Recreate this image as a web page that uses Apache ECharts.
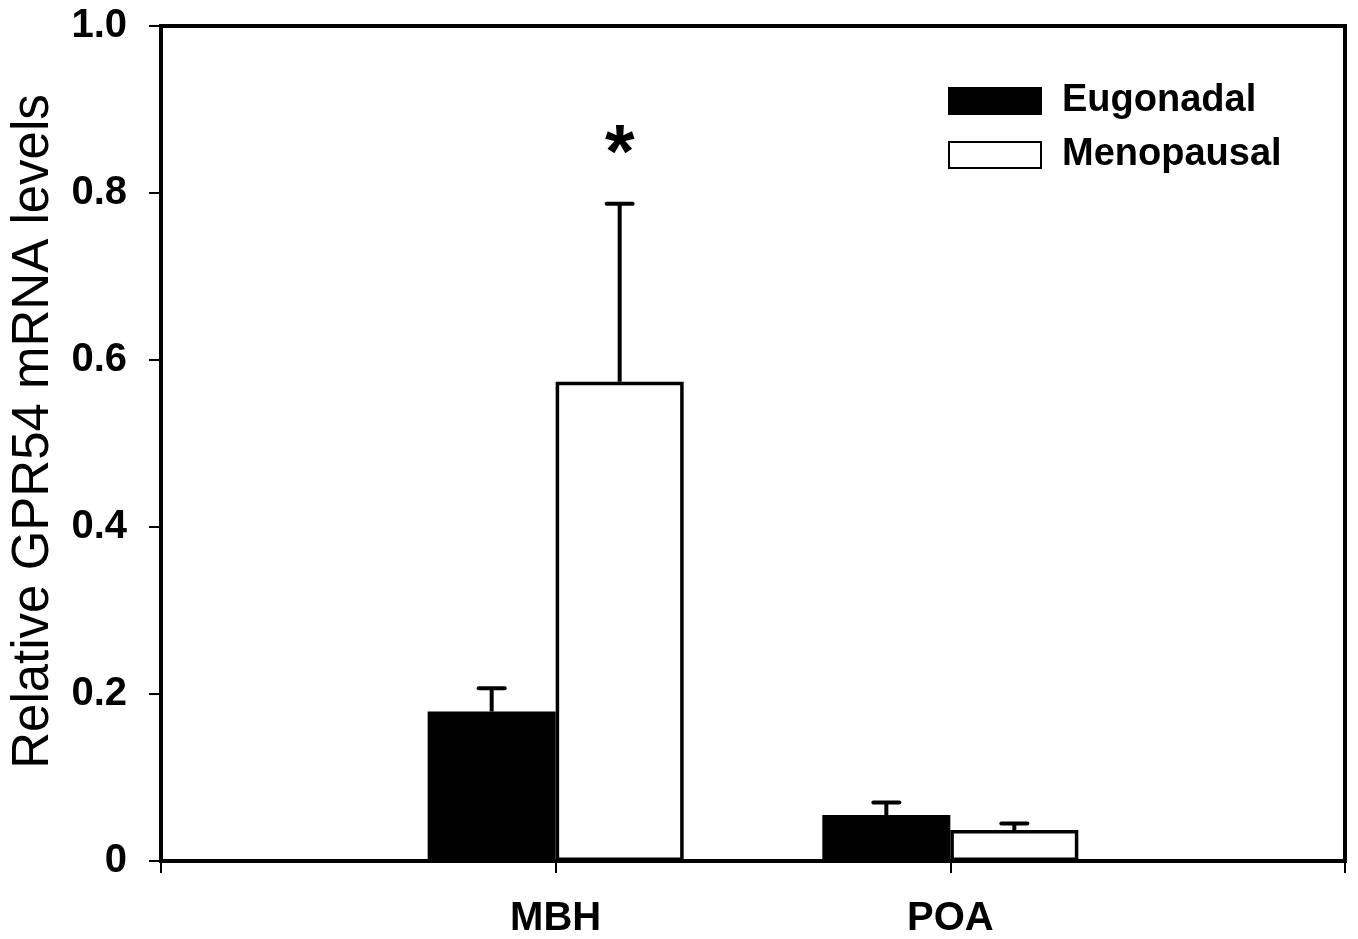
<!DOCTYPE html>
<html>
<head>
<meta charset="utf-8">
<script src="https://cdn.jsdelivr.net/npm/echarts@6/dist/echarts.min.js"></script>
<style>html,body{margin:0;padding:0;background:#fff}#c{width:1358px;height:939px}</style>
</head>
<body>
<div id="c"></div>
<script>
// Data
var categories = ['', 'MBH', 'POA', ''];
var seriesNames = ['Eugonadal', 'Menopausal'];
var eugonadal = [null, 0.179, 0.055, null];
var eugonadalErrTop = [null, 0.207, 0.070, null];
var menopausal = [null, 0.574, 0.037, null];
var menopausalErrTop = [null, 0.787, 0.045, null];
var menopausalSig = ['', '*', '', ''];
var yTicks = [0, 0.2, 0.4, 0.6, 0.8, 1.0];

var BAR_W = 128;
var FONT = '"Liberation Sans", Arial, Helvetica, sans-serif';

function errData(vals, tops, sig) {
  var out = [];
  for (var i = 0; i < vals.length; i++) {
    if (vals[i] == null) continue;
    out.push([i, vals[i], tops[i], sig ? sig[i] : '']);
  }
  return out;
}

function makeErrRender(offset) {
  return function (params, api) {
    var x = api.value(0);
    var base = api.coord([x, api.value(1)]);
    var top = api.coord([x, api.value(2)]);
    var cx = base[0] + offset;
    var style = { stroke: '#000', lineWidth: 4, lineCap: 'round' };
    var children = [
      { type: 'line', shape: { x1: cx, y1: base[1], x2: cx, y2: top[1] }, style: { stroke: '#000', lineWidth: 4 } },
      { type: 'line', shape: { x1: cx - 13, y1: top[1], x2: cx + 13, y2: top[1] }, style: style }
    ];
    var s = api.value(3);
    if (s) {
      children.push({ type: 'text', style: { text: s, x: cx, y: top[1] - 48, align: 'center', verticalAlign: 'middle', font: 'bold 76px ' + FONT, fill: '#000' } });
    }
    return { type: 'group', children: children };
  };
}

var chart = echarts.init(document.getElementById('c'));
chart.setOption({
  animation: false,
  backgroundColor: '#fff',
  grid: { left: 157, right: 13, top: 26, bottom: 77, show: true, borderColor: '#000', borderWidth: 4, backgroundColor: 'transparent' },
  legend: {
    orient: 'vertical', left: 943, top: 77, itemWidth: 92, itemHeight: 26, itemGap: 16, icon: 'rect',
    data: seriesNames,
    textStyle: { fontFamily: FONT, fontWeight: 'bold', fontSize: 38, color: '#000', lineHeight: 36, padding: [0, 0, 0, 16] }
  },
  xAxis: {
    type: 'category', data: categories, boundaryGap: false,
    axisLine: { lineStyle: { color: '#000', width: 4 } },
    axisTick: { show: true, length: 12, lineStyle: { color: '#000', width: 2 } },
    axisLabel: { margin: 38, fontFamily: FONT, fontWeight: 'bold', fontSize: 40, color: '#000' },
    splitLine: { show: false }
  },
  yAxis: {
    type: 'value', min: 0, max: 1, interval: 0.2,
    name: 'Relative GPR54 mRNA levels', nameLocation: 'middle', nameGap: 102,
    nameTextStyle: { fontFamily: FONT, fontSize: 51, color: '#000', padding: [0, 0, 0, 24] },
    axisLine: { show: true, lineStyle: { color: '#000', width: 4 } },
    axisTick: { show: true, length: 12, lineStyle: { color: '#000', width: 2 } },
    axisLabel: { margin: 34, fontFamily: FONT, fontWeight: 'bold', fontSize: 40, color: '#000',
      formatter: function (v) { return v === 0 ? '0' : v.toFixed(1); } },
    splitLine: { show: false }
  },
  series: [
    { name: seriesNames[0], type: 'bar', data: eugonadal, barWidth: BAR_W, barGap: '0%',
      itemStyle: { color: '#000', borderColor: '#000', borderWidth: 3 } },
    { name: seriesNames[1], type: 'bar', data: menopausal, barWidth: BAR_W, barGap: '0%',
      itemStyle: { color: '#fff', borderColor: '#000', borderWidth: 3.5 } },
    { type: 'custom', data: errData(eugonadal, eugonadalErrTop), renderItem: makeErrRender(-BAR_W / 2), z: 5, silent: true },
    { type: 'custom', data: errData(menopausal, menopausalErrTop, menopausalSig), renderItem: makeErrRender(BAR_W / 2), z: 5, silent: true }
  ]
});
</script>
</body>
</html>
